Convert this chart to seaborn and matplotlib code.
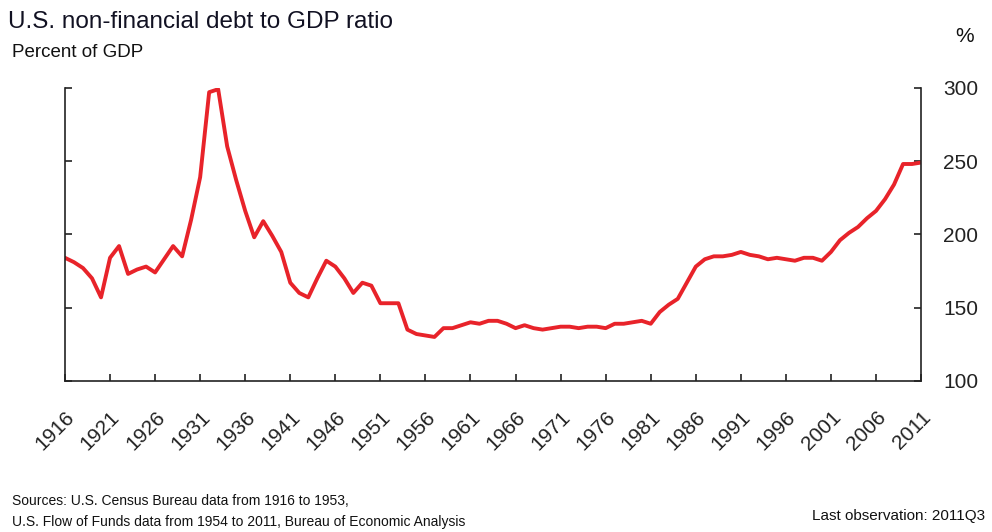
import numpy as np
import pandas as pd
import matplotlib
matplotlib.use("Agg")
import matplotlib.pyplot as plt
import seaborn as sns

# values (percent of GDP, annual)
years = list(range(1916, 2012))
debt_ratio = [
    184, 181, 177, 170, 157, 184, 192, 173, 176, 178,   # 1916-1925
    174, 183, 192, 185, 210, 239, 297, 299, 260, 237,   # 1926-1935
    216, 198, 209, 199, 188, 167, 160, 157, 170, 182,   # 1936-1945
    178, 170, 160, 167, 165, 153, 153, 153, 135, 132,   # 1946-1955
    131, 130, 136, 136, 138, 140, 139, 141, 141, 139,   # 1956-1965
    136, 138, 136, 135, 136, 137, 137, 136, 137, 137,   # 1966-1975
    136, 139, 139, 140, 141, 139, 147, 152, 156, 167,   # 1976-1985
    178, 183, 185, 185, 186, 188, 186, 185, 183, 184,   # 1986-1995
    183, 182, 184, 184, 182, 188, 196, 201, 205, 211,   # 1996-2005
    216, 224, 234, 248, 248, 249,                       # 2006-2011
]
tick_years = list(range(1916, 2012, 5))
y_ticks = [100, 150, 200, 250, 300]

df = pd.DataFrame({"year": years, "ratio": debt_ratio})

sns.set_style("ticks")
plt.rcParams['font.family'] = ['Liberation Sans', 'DejaVu Sans']

fig = plt.figure(figsize=(9.92, 5.32), dpi=100)
ax = fig.add_axes([0.0655, 0.284, 0.863, 0.551])

sns.lineplot(data=df, x="year", y="ratio", ax=ax, color="#e8232a", linewidth=2.8)

ax.set_xlim(1916, 2011)
ax.set_ylim(100, 300)
ax.set_xticks(tick_years)
ax.set_xticklabels([str(y) for y in tick_years], rotation=45, ha="right",
                   rotation_mode="anchor", fontsize=15)
ax.set_yticks(y_ticks)
ax.set_yticklabels([str(v) for v in y_ticks], fontsize=15)
ax.set_xlabel("")
ax.set_ylabel("")

ax.spines["top"].set_visible(False)
for s in ["left", "right", "bottom"]:
    ax.spines[s].set_visible(True)
    ax.spines[s].set_linewidth(1.2)
    ax.spines[s].set_color("#222222")
ax.tick_params(axis="y", left=True, right=True, labelleft=False, labelright=True,
               direction="in", length=5, width=1.2, pad=16, colors="#222222")
ax.tick_params(axis="x", bottom=True, direction="in", length=5, width=1.2,
               pad=19, colors="#222222")

fig.text(0.008, 0.958, "U.S. non-financial debt to GDP ratio", fontsize=17.5,
         color="#111122", va="center")
fig.text(0.012, 0.902, "Percent of GDP", fontsize=13.5, color="#111111", va="center")
fig.text(0.972, 0.932, "%", fontsize=15, color="#111111", ha="center", va="center")

narrow = ['Liberation Sans Narrow', 'Liberation Sans', 'DejaVu Sans']
fig.text(0.012, 0.058, "Sources: U.S. Census Bureau data from 1916 to 1953,",
         fontsize=10, family=narrow, color="#111111", va="center")
fig.text(0.012, 0.018, "U.S. Flow of Funds data from 1954 to 2011, Bureau of Economic Analysis",
         fontsize=10, family=narrow, color="#111111", va="center")
fig.text(0.993, 0.03, "Last observation: 2011Q3", fontsize=11, family=narrow,
         color="#111111", ha="right", va="center")

fig.savefig("out.png", dpi=100)
